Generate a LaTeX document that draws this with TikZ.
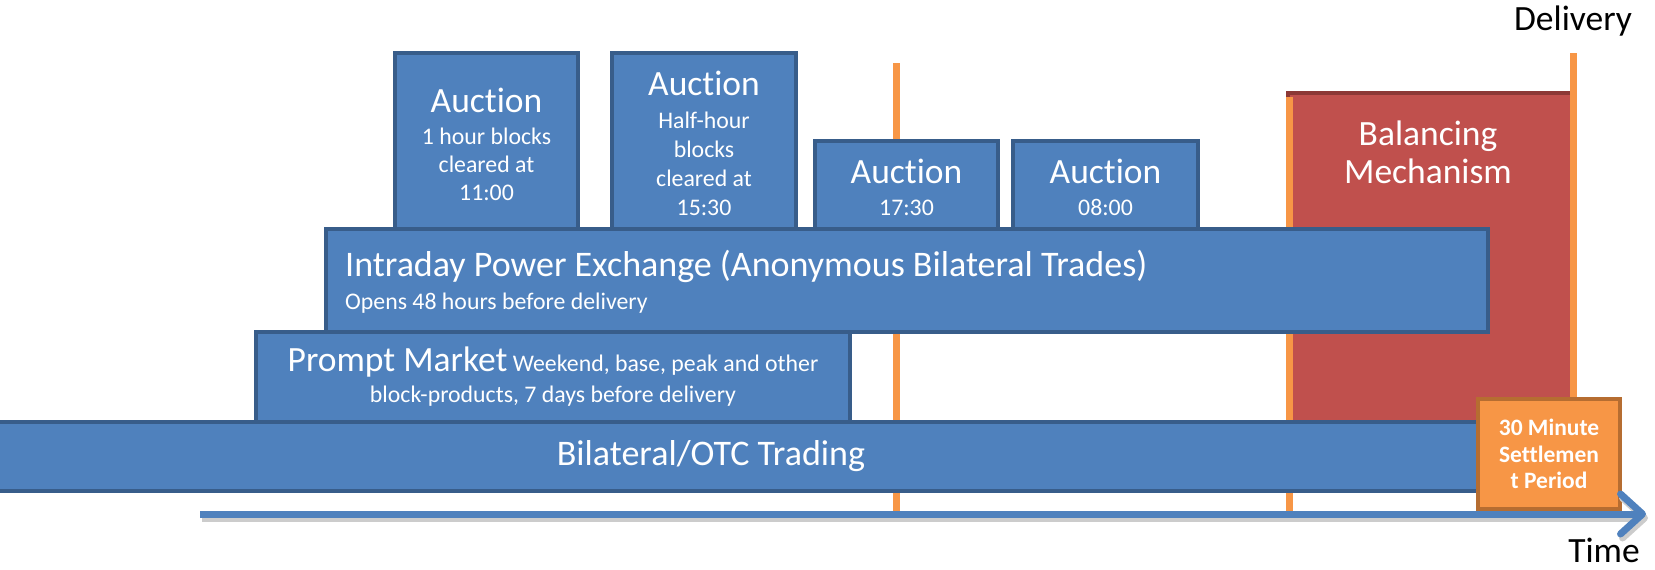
\documentclass[tikz,border=0pt]{standalone}
\usepackage{fontspec}
\setmainfont{Carlito}[Ligatures=NoCommon]
\usetikzlibrary{arrows.meta}

\definecolor{boxblue}{HTML}{4F81BD}
\definecolor{edgeblue}{HTML}{385D8A}
\definecolor{bmred}{HTML}{C0504D}
\definecolor{edgered}{HTML}{8C3836}
\definecolor{gateorange}{HTML}{F79646}
\definecolor{edgeorange}{HTML}{B66D31}

\newcommand{\bigtxt}{\fontsize{35.5}{40}\selectfont}
\newcommand{\widetxt}{\fontsize{36}{40}\selectfont}
\newcommand{\smalltxt}{\fontsize{23.8}{28}\selectfont}
\newcommand{\settletxt}{\fontsize{23.5}{26.5}\selectfont\bfseries}

\tikzset{
  blockbox/.style={draw=edgeblue, fill=boxblue, line width=4pt, text=white,
    anchor=north west, align=center, font=\smalltxt},
  bmbox/.style={draw=edgered, fill=bmred, line width=4pt, anchor=north west},
  settlebox/.style={draw=edgeorange, fill=gateorange, line width=4pt, text=white,
    anchor=north west, align=center, font=\settletxt},
  gateline/.style={draw=gateorange, line width=7pt},
  timeaxis/.style={draw=boxblue, line width=7pt,
    -{Straight Barb[length=22pt, width=40pt, round]}},
}

\begin{document}
\begin{tikzpicture}[x=1pt, y=-1pt, every node/.style={inner sep=0pt}]
  \useasboundingbox (0,0) rectangle (1655,570);
  % balancing mechanism behind everything
  \node[bmbox, minimum width=284pt, minimum height=370pt] (bm) at (1286,91) {};
  \node[text=white, align=center, font=\fontsize{35.5}{38}\selectfont] (bmtext) at (1428,152) {Balancing\\Mechanism};
  % gate lines
  \draw[gateline] (896,63) -- (896,512);
  \draw[gateline] (1289,97) -- (1289,512);
  \draw[gateline] (1573,53) -- (1573,420);
  % auctions
  \node[blockbox, minimum width=183pt, minimum height=182pt] (auca) at (393,51)
    {{\bigtxt Auction}\\[4pt] 1 hour blocks\\ cleared at\\ 11:00};
  \node[blockbox, minimum width=184pt, minimum height=180pt] (aucb) at (610,51)
    {{\bigtxt Auction}\\[5pt] Half-hour\\[1pt] blocks\\[1pt] cleared at\\[1pt] 15:30};
  \node[blockbox, minimum width=183pt, minimum height=92pt] (aucc) at (813,139)
    {{\bigtxt Auction}\\[4pt] 17:30};
  \node[blockbox, minimum width=185pt, minimum height=92pt] (aucd) at (1011,139)
    {{\bigtxt Auction}\\[4pt] 08:00};
  % markets
  \node[blockbox, minimum width=1162pt, minimum height=103pt] (intra) at (324,227) {};
  \node[text=white, anchor=west, align=left, font=\smalltxt] (intratext) at (345,282)
    {{\widetxt Intraday Power Exchange (Anonymous Bilateral Trades)}\\[5pt] Opens 48 hours before delivery};
  \node[blockbox, minimum width=594pt, minimum height=90pt] (prompt) at (254,330)
    {{\bigtxt Prompt Market} Weekend, base, peak and other\\[3pt] block-products, 7 days before delivery};
  \node[blockbox, minimum width=1538pt, minimum height=69pt, font=\widetxt] (otc) at (-60,420)
    {Bilateral/OTC Trading};
  \node[settlebox, minimum width=142pt, minimum height=110pt] (settle) at (1476,397)
    {30 Minute\\ Settlemen\\ t Period};
  % time axis
  \coordinate (tstart) at (200,514);
  \coordinate (tend) at (1646,514);
  \draw[timeaxis, draw=black!20] ([shift={(2,4)}]tstart) -- ([shift={(2,4)}]tend);
  \draw[timeaxis] (tstart) -- (tend);
  \node[font=\bigtxt] (deliv) at (1573,21) {Delivery};
  \node[font=\bigtxt] (timelbl) at (1604,550) {Time};
\end{tikzpicture}
\end{document}
